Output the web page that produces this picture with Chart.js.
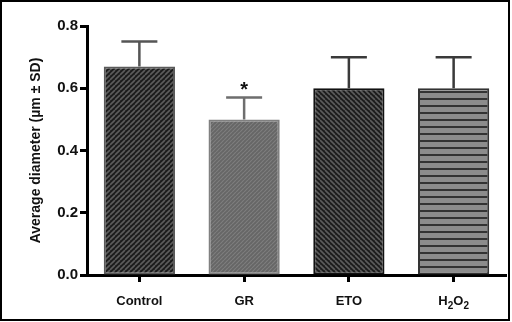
<!DOCTYPE html>
<html>
<head>
<meta charset="utf-8">
<script src="https://cdn.jsdelivr.net/npm/chart.js@4/dist/chart.umd.min.js"></script>
<style>
html,body{margin:0;padding:0;background:#fff;}
#wrap{width:512px;height:322px;position:relative;}
</style>
</head>
<body>
<div id="wrap"><canvas id="c" width="512" height="322"></canvas></div>
<script>
// ---- data ----
const categories = ['Control', 'GR', 'ETO', 'H\u2082O\u2082'];
const means = [0.67, 0.50, 0.60, 0.60];
const sds = [0.08, 0.07, 0.10, 0.10];
const marks = ['', '*', '', ''];
const yMin = 0, yMax = 0.8, yStep = 0.2;
const yTitle = 'Average diameter (\u00b5m \u00b1 SD)';

// ---- hatch patterns ----
function diagPattern(bg, fg, period, lw, dir) {
  const c = document.createElement('canvas');
  c.width = period; c.height = period;
  const g = c.getContext('2d');
  g.fillStyle = bg; g.fillRect(0, 0, period, period);
  g.strokeStyle = fg; g.lineWidth = lw;
  g.beginPath();
  if (dir > 0) {
    for (const o of [-period, 0, period]) { g.moveTo(o, period); g.lineTo(o + period, 0); }
  } else {
    for (const o of [-period, 0, period]) { g.moveTo(o, 0); g.lineTo(o + period, period); }
  }
  g.stroke();
  return g.createPattern(c, 'repeat');
}
function horizPattern(bg, fg, period, lw) {
  const c = document.createElement('canvas');
  c.width = 8; c.height = period;
  const g = c.getContext('2d');
  g.fillStyle = bg; g.fillRect(0, 0, 8, period);
  g.fillStyle = fg; g.fillRect(0, 0, 8, lw);
  return g.createPattern(c, 'repeat');
}
const fills = [
  diagPattern('#1c1c1c', '#5c5c5c', 5, 1.6, 1),
  diagPattern('#666666', '#7e7e7e', 4, 1.2, 1),
  diagPattern('#1c1c1c', '#5c5c5c', 5, 1.6, -1),
  horizPattern('#8c8c8c', '#333333', 7, 2)
];
const borders = ['#5a5a5a', '#808080', '#111111', '#333333'];

const font = 'Liberation Sans';
const subMap = { '\u2080': '0', '\u2081': '1', '\u2082': '2', '\u2083': '3' };
const hasSub = s => /[\u2080-\u2089]/.test(s);

// ---- plugins ----
const errorBars = {
  id: 'errorBars',
  afterDatasetsDraw(chart) {
    const ctx = chart.ctx;
    const meta = chart.getDatasetMeta(0);
    const y = chart.scales.y;
    ctx.save();
    meta.data.forEach((el, i) => {
      const top = y.getPixelForValue(means[i] + sds[i]);
      const base = el.y;
      ctx.strokeStyle = i === 1 ? '#6e6e6e' : (i === 0 ? '#555555' : '#3a3a3a');
      ctx.lineWidth = 2.5;
      ctx.beginPath();
      ctx.moveTo(el.x, base);
      ctx.lineTo(el.x, top);
      ctx.moveTo(el.x - 18, top);
      ctx.lineTo(el.x + 18, top);
      ctx.stroke();
      if (marks[i]) {
        ctx.fillStyle = '#111';
        ctx.font = 'bold 20px "Liberation Sans", Arial, sans-serif';
        ctx.textAlign = 'center';
        ctx.textBaseline = 'middle';
        ctx.fillText(marks[i], el.x, top - 7);
      }
    });
    ctx.restore();
  }
};
// labels containing subscript digits are drawn with real lowered subscripts
const subLabels = {
  id: 'subLabels',
  afterDraw(chart) {
    const ctx = chart.ctx;
    const x = chart.scales.x;
    ctx.save();
    ctx.fillStyle = '#111';
    ctx.textBaseline = 'alphabetic';
    categories.forEach((lab, i) => {
      if (!hasSub(lab)) return;
      const parts = [...lab].map(ch => subMap[ch] ? { t: subMap[ch], sub: true } : { t: ch, sub: false });
      const bigF = 'bold 13px "Liberation Sans", Arial, sans-serif';
      const smallF = 'bold 10px "Liberation Sans", Arial, sans-serif';
      let w = 0;
      parts.forEach(p => { ctx.font = p.sub ? smallF : bigF; p.w = ctx.measureText(p.t).width; w += p.w; });
      let cx = x.getPixelForTick(i) - w / 2;
      const base = 305;
      parts.forEach(p => {
        ctx.font = p.sub ? smallF : bigF;
        ctx.textAlign = 'left';
        ctx.fillText(p.t, cx, p.sub ? base + 4 : base);
        cx += p.w;
      });
    });
    ctx.restore();
  }
};
const frame = {
  id: 'frame',
  afterDraw(chart) {
    const ctx = chart.ctx;
    ctx.save();
    ctx.strokeStyle = '#000';
    ctx.lineWidth = 2;
    ctx.strokeRect(1, 1, 508, 319);
    ctx.restore();
  }
};

new Chart(document.getElementById('c'), {
  type: 'bar',
  data: {
    labels: categories,
    datasets: [{
      data: means,
      backgroundColor: fills,
      borderColor: borders,
      borderWidth: 2,
      borderSkipped: false,
      categoryPercentage: 1,
      barPercentage: 0.68
    }]
  },
  options: {
    responsive: false,
    animation: false,
    devicePixelRatio: 1,
    layout: { padding: { left: 0, top: 26, right: 6, bottom: 0 } },
    plugins: { legend: { display: false }, tooltip: { enabled: false } },
    scales: {
      x: {
        grid: { display: true, drawOnChartArea: false, offset: false, tickLength: 7, tickWidth: 3, tickColor: '#000' },
        border: { display: true, color: '#000', width: 3 },
        ticks: {
          color: '#111', padding: 12, font: { family: font, size: 13, weight: 'bold' },
          callback: (v, i) => hasSub(categories[i]) ? '' : categories[i]
        },
        afterFit(s) { s.height = 47; }
      },
      y: {
        min: yMin, max: yMax,
        grid: { display: true, drawOnChartArea: false, tickLength: 7, tickWidth: 3, tickColor: '#000' },
        border: { display: true, color: '#000', width: 3 },
        ticks: {
          stepSize: yStep, color: '#111', padding: 2,
          font: { family: font, size: 15, weight: 'bold' },
          callback: v => Number(v).toFixed(1)
        },
        title: {
          display: true, text: yTitle, color: '#111',
          font: { family: font, size: 14, weight: 'bold' },
          padding: { top: 28, bottom: 0 }
        },
        afterFit(s) { s.width = 87; }
      }
    }
  },
  plugins: [errorBars, subLabels, frame]
});
</script>
</body>
</html>
